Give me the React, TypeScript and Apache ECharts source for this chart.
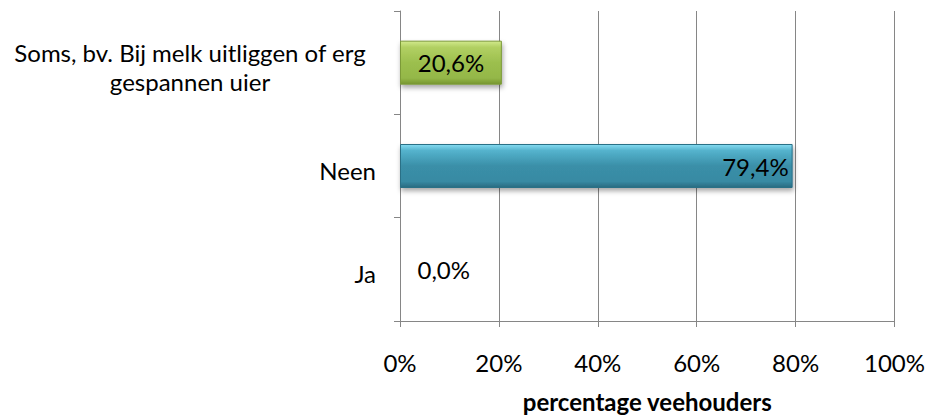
import React, { useEffect, useRef } from "react";
import * as echarts from "echarts";

const categories = ["Ja", "Neen", "Soms, bv. Bij melk uitliggen of erg gespannen uier"];
const values = [0.0, 79.4, 20.6];
const xTicks = [0, 20, 40, 60, 80, 100];
const axisTitle = "percentage veehouders";

const FONT = "Lato, 'Open Sans', sans-serif";
const FS = 24;
const GRAY = "#868686";

function wrap(text: string, maxChars: number): string[] {
  const words = text.split(" ");
  const lines: string[] = [];
  let cur = "";
  for (const w of words) {
    const next = cur ? cur + " " + w : w;
    if (next.length > maxChars && cur) {
      lines.push(cur);
      cur = w;
    } else {
      cur = next;
    }
  }
  if (cur) lines.push(cur);
  return lines;
}

const green = new echarts.graphic.LinearGradient(0, 0, 0, 1, [
  { offset: 0, color: "#d2ea8c" },
  { offset: 0.14, color: "#b2d063" },
  { offset: 0.5, color: "#9cbf4e" },
  { offset: 0.86, color: "#94b748" },
  { offset: 1, color: "#76962f" },
]);
const blue = new echarts.graphic.LinearGradient(0, 0, 0, 1, [
  { offset: 0, color: "#86dcf2" },
  { offset: 0.14, color: "#55b3cd" },
  { offset: 0.5, color: "#3a8fa8" },
  { offset: 0.86, color: "#388aa3" },
  { offset: 1, color: "#286a80" },
]);
const barFills = [green, blue, green];
const barBorders = ["#7b9a38", "#2a6f86", "#7b9a38"];
const labelPos = ["right", "insideRight", "inside"];
const labelDist = [17, 4, 5];

export default function App() {
  const ref = useRef<HTMLDivElement>(null);
  useEffect(() => {
    if (!ref.current) return;
    const chart = echarts.init(ref.current, undefined, { renderer: "svg" });
    chart.setOption({
      animation: false,
      grid: { left: 400, right: 33, top: 11, bottom: 85, containLabel: false },
      xAxis: {
        type: "value",
        min: 0,
        max: 100,
        interval: 20,
        name: axisTitle,
        nameLocation: "middle",
        nameGap: 68,
        nameTextStyle: { fontFamily: FONT, fontSize: FS, fontWeight: "bold", color: "#000" },
        axisLine: { show: true, lineStyle: { color: GRAY, width: 1 } },
        axisTick: { show: true, length: 6, lineStyle: { color: GRAY } },
        splitLine: { show: true, lineStyle: { color: GRAY, width: 1 } },
        axisLabel: {
          formatter: (v: number) => (xTicks.includes(v) ? v + "%" : ""),
          fontFamily: FONT,
          fontSize: FS,
          color: "#000",
          margin: 29,
        },
      },
      yAxis: {
        type: "category",
        data: categories,
        axisLine: { show: true, lineStyle: { color: GRAY, width: 1 } },
        axisTick: { show: true, length: 6, lineStyle: { color: GRAY } },
        splitLine: { show: false },
        axisLabel: {
          margin: 24,
          fontFamily: FONT,
          fontSize: FS,
          lineHeight: 29,
          padding: [8, 0, 0, 0],
          color: "#000",
          formatter: (v: string) => {
            const lines = wrap(v, 36);
            if (lines.length === 1) return v;
            return lines.map((l) => "{w|" + l + "}").join("\n");
          },
          rich: {
            w: {
              width: 372,
              align: "center",
              fontFamily: FONT,
              fontSize: FS,
              lineHeight: 29,
              color: "#000",
            },
          },
        },
      },
      series: [
        {
          type: "bar",
          barWidth: 44,
          data: values.map((v, i) => ({
            value: v,
            itemStyle: {
              color: barFills[i],
              borderColor: barBorders[i],
              borderWidth: 1,
              shadowColor: "rgba(0,0,0,0.35)",
              shadowBlur: 5,
              shadowOffsetX: 1,
              shadowOffsetY: 3,
            },
            label: {
              show: true,
              position: labelPos[i],
              distance: labelDist[i],
            },
          })),
          label: {
            show: true,
            fontFamily: FONT,
            fontSize: FS,
            color: "#000",
            formatter: (p: any) => p.value.toFixed(1).replace(".", ",") + "%",
          },
        },
      ],
    });
    return () => chart.dispose();
  }, []);
  return (
    <div
      ref={ref}
      style={{ position: "fixed", left: 0, top: 0, width: 928, height: 418, background: "#fff" }}
    />
  );
}
